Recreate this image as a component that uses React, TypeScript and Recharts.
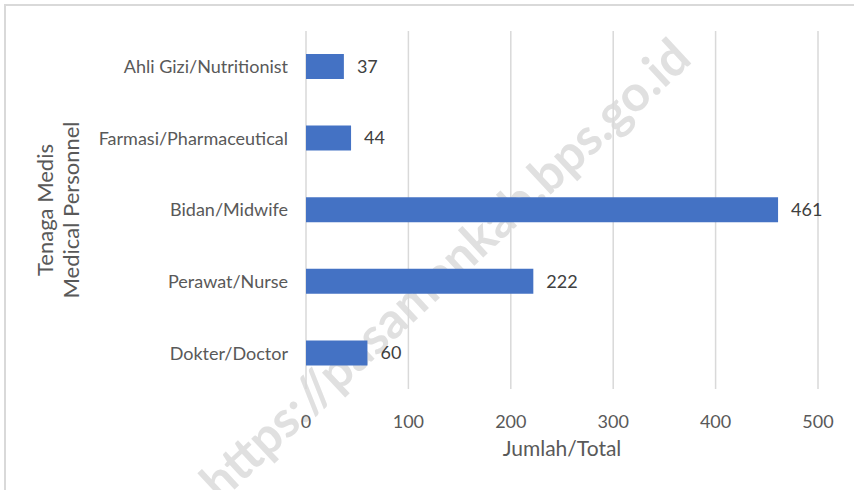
import React from "react";
import {
  BarChart,
  Bar,
  XAxis,
  YAxis,
  CartesianGrid,
  LabelList,
} from "recharts";

const categories = [
  "Ahli Gizi/Nutritionist",
  "Farmasi/Pharmaceutical",
  "Bidan/Midwife",
  "Perawat/Nurse",
  "Dokter/Doctor",
];
const totals = [37, 44, 461, 222, 60];
const xTicks = [0, 100, 200, 300, 400, 500];

const data = categories.map((name, i) => ({ name, total: totals[i] }));

const BAR_BLUE = "#4472C4";
const TICK_GREY = "#595959";
const LABEL_DARK = "#404040";
const GRID_GREY = "#d9d9d9";
const FONT = "Lato, 'Open Sans', sans-serif";

function YTitle(props: any) {
  const vb = props.viewBox || {};
  const cy = (vb.y ?? 31) + (vb.height ?? 358) / 2;
  return (
    <g fill={TICK_GREY} fontSize={22} fontFamily={FONT} textAnchor="middle">
      <text transform={`translate(53, ${cy}) rotate(-90)`}>Tenaga Medis</text>
      <text transform={`translate(79, ${cy}) rotate(-90)`}>Medical Personnel</text>
    </g>
  );
}

export default function App() {
  return (
    <div
      style={{
        position: "absolute",
        left: 0,
        top: 0,
        width: 854,
        height: 490,
        overflow: "hidden",
        background: "#fff",
      }}
    >
      {/* watermark sits under the chart */}
      <div
        style={{
          position: "absolute",
          left: 444,
          top: 268,
          transform: "translate(-50%, -50%) rotate(-43deg)",
          fontFamily: FONT,
          fontWeight: 700,
          fontSize: 50,
          color: "#e0e0e0",
          whiteSpace: "nowrap",
        }}
      >
        https://pasamankab.bps.go.id
      </div>
      <div style={{ position: "absolute", left: 0, top: 0 }}>
        <BarChart
          width={854}
          height={490}
          data={data}
          layout="vertical"
          margin={{ top: 31, right: 36, bottom: 0, left: 0 }}
        >
          <CartesianGrid horizontal={false} stroke={GRID_GREY} strokeWidth={1.5} />
          <XAxis
            type="number"
            domain={[0, 500]}
            ticks={xTicks}
            axisLine={false}
            tickLine={false}
            height={101}
            tickMargin={20}
            tick={{ fill: TICK_GREY, fontSize: 18, fontFamily: FONT }}
            label={{
              value: "Jumlah/Total",
              position: "insideTop",
              offset: 52,
              fill: TICK_GREY,
              fontSize: 21,
              fontFamily: FONT,
            }}
          />
          <YAxis
            type="category"
            dataKey="name"
            width={306}
            axisLine={false}
            tickLine={false}
            tickMargin={12}
            tick={{ fill: TICK_GREY, fontSize: 18, fontFamily: FONT }}
            label={<YTitle />}
          />
          <Bar dataKey="total" fill={BAR_BLUE} barSize={25} isAnimationActive={false}>
            <LabelList
              dataKey="total"
              position="right"
              offset={13}
              fill={LABEL_DARK}
              fontSize={18}
              fontFamily={FONT}
            />
          </Bar>
        </BarChart>
      </div>
      <div
        style={{
          position: "absolute",
          left: 4,
          top: 4,
          width: 900,
          height: 600,
          borderTop: "2px solid #d9d9d9",
          borderLeft: "2px solid #d9d9d9",
          zIndex: 2,
          pointerEvents: "none",
        }}
      />
    </div>
  );
}
